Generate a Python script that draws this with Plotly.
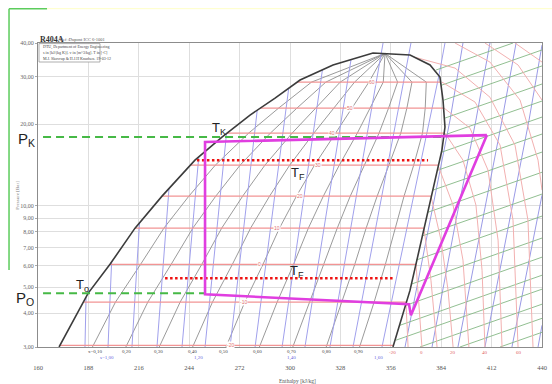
import math
import plotly.graph_objects as go

# ---------------- axes ----------------
H_TICKS = [160, 188, 216, 244, 272, 300, 328, 356, 384, 412, 440]
P_TICKS = [3, 4, 5, 6, 7, 8, 9, 10, 20, 30, 40]
P_TICKTEXT = ["3,00", "4,00", "5,00", "6,00", "7,00", "8,00", "9,00", "10,00", "20,00", "30,00", "40,00"]

# ---------------- saturation dome (h kJ/kg, p bar) ----------------
dome_h = [171.7, 187.8, 200.0, 213.9, 228.9, 247.2, 262.2, 277.8, 291.7, 305.6, 323.9, 346.1,
          366.7, 377.8, 383.3, 385.0, 386.1, 384.4, 380.6, 378.9, 372.2, 366.7, 357.2]
dome_p = [3.0, 4.74, 6.07, 8.26, 10.85, 14.74, 17.94, 21.65, 25.0, 29.18, 33.17, 36.73,
          36.13, 33.17, 29.94, 24.6, 19.54, 16.06, 12.44, 11.13, 7.02, 4.87, 3.0]
crit_h, crit_p = 352.8, 36.6

# ---------------- isotherms inside the dome ----------------
iso_T = [-20, -10, 0, 10, 20, 30, 40, 50, 60]
iso_p = [3.04, 4.40, 6.07, 8.26, 10.85, 14.12, 18.57, 22.97, 28.67]
iso_h_liq = [172.2, 185.1, 200.0, 213.9, 228.9, 244.7, 265.0, 283.5, 304.0]
iso_h_vap = [357.6, 364.7, 370.0, 374.4, 378.3, 382.5, 385.7, 385.3, 383.7]
iso_label_h = [266.7, 273.9, 283.3, 292.8, 305.6, 315.6, 323.3, 333.3, 345.6]

# isotherms in the superheated region
sh_T = [-10, 0, 10, 20, 30, 40, 50, 60, 70, 80, 90, 100]
sh_h = [[364.4, 365.6],
        [370.0, 371.7, 373.3],
        [374.4, 378.3, 381.7],
        [378.3, 383.9, 387.8, 390.6],
        [382.2, 390.6, 396.1, 399.4],
        [386.1, 396.1, 403.3, 406.7, 408.3],
        [385.6, 400.0, 410.0, 415.6, 417.8],
        [384.4, 402.8, 416.7, 423.9, 426.7],
        [368.9, 391.7, 411.1, 425.0, 432.2, 435.0],
        [391.7, 411.1, 427.8, 437.8, 440.0],
        [408.3, 426.7, 440.0],
        [425.0, 440.0]]
sh_p = [[4.40, 3.0],
        [6.07, 4.28, 3.0],
        [8.26, 5.30, 3.0],
        [10.85, 7.46, 4.87, 3.0],
        [14.12, 10.05, 6.29, 3.0],
        [18.57, 14.74, 10.05, 5.77, 3.0],
        [22.97, 19.37, 13.54, 7.46, 3.0],
        [28.67, 24.18, 16.76, 8.84, 3.0],
        [35.5, 32.3, 25.2, 16.76, 8.84, 3.0],
        [40.0, 34.0, 24.6, 14.74, 11.42],
        [40.0, 33.17, 24.6],
        [40.0, 34.0]]
sh_label_T = ["-20", "0", "20", "40", "60"]
sh_label_h = [357.2, 373.3, 390.6, 408.3, 427.2]

# ---------------- vapour quality lines ----------------
quality = [0.1, 0.2, 0.3, 0.4, 0.5, 0.6, 0.7, 0.8, 0.9]
quality_label = ["x=0,10", "0,20", "0,30", "0,40", "0,50", "0,60", "0,70", "0,80", "0,90"]
quality_label_h = [191.7, 208.9, 227.2, 245.6, 263.3, 282.2, 300.6, 320.0, 337.8]

# ---------------- isentropes ----------------
s_dome_h_bot = [186.1, 198.9, 212.2, 226.1, 240.0, 252.8, 266.7, 280.6, 295.6, 308.3, 322.2, 335.0, 351.1]
s_dome_h_top = [186.7, 200.9, 216.4, 232.8, 249.3, 264.7, 281.8, 299.3, 318.0, 333.9, 350.6, 365.6, 382.8]
s_dome_p_top = [4.58, 6.18, 8.62, 11.62, 15.13, 18.41, 22.6, 27.25, 31.77, 34.7, 36.55, 36.13, 30.45]
s_ext_h = [351.7, 367.2, 386.1]
s_sh_h = [[363.9, 377.8, 388.9, 396.1],
          [378.9, 392.2, 403.3, 411.1],
          [393.3, 407.2, 417.8, 425.6],
          [408.3, 422.2, 432.8, 440.0],
          [423.3, 437.2, 440.0],
          [437.8, 440.0]]
s_sh_p = [[3.0, 8.84, 20.74, 40.0],
          [3.0, 8.84, 20.74, 40.0],
          [3.0, 8.84, 20.74, 40.0],
          [3.0, 8.84, 20.74, 39.3],
          [3.0, 8.84, 10.94],
          [3.0, 3.61]]
s_label = ["s=1,00", "1,20", "1,40", "1,60"]
s_label_h = [198.3, 248.9, 300.6, 349.4]

# ---------------- isochores (superheated) ----------------
v_h0 = [381.1, 384.4, 385.6, 386.1, 385.6, 384.4, 382.2, 379.4, 376.7, 373.3, 370.0, 367.2, 364.4, 361.1, 358.9, 372.2, 394.4, 416.7]
v_p0 = [31.77, 27.95, 24.6, 21.1, 18.25, 15.79, 13.54, 11.42, 9.46, 7.72, 6.29, 5.12, 4.28, 3.61, 3.18, 3.0, 3.0, 3.0]
v_h1 = [423.9, 440, 440, 440, 440, 440, 440, 440, 440, 440, 440, 440, 440, 440, 440, 440, 440, 440]
v_p1 = [40.0, 37.7, 32.9, 28.2, 24.39, 21.28, 18.41, 15.79, 13.3, 11.04, 9.15, 7.59, 6.45, 5.53, 4.91, 4.32, 3.83, 3.40]

# ---------------- refrigeration cycle ----------------
cycle_h = [409.4, 252.8, 252.8, 366.1, 367.2, 409.4]
cycle_p = [18.25, 17.2, 4.70, 4.32, 3.93, 18.25]
pk_line_h = [162.8, 385.0]
pk_line_p = [17.94, 17.94]
po_line_h = [162.8, 252.8]
po_line_p = [4.74, 4.74]
tf_hi_h = [248.3, 376.7]
tf_hi_p = [14.74, 14.74]
tf_lo_h = [230.6, 358.3]
tf_lo_p = [5.39, 5.39]

fig = go.Figure()


def add_family(hs_list, ps_list, color, width, dash="solid"):
    xs, ys = [], []
    for hs, ps in zip(hs_list, ps_list):
        xs += list(hs) + [None]
        ys += list(ps) + [None]
    fig.add_trace(go.Scatter(x=xs, y=ys, mode="lines", hoverinfo="skip", showlegend=False,
                             line=dict(color=color, width=width, dash=dash)))


# quality lines
lev_p = [dome_p[0]] + iso_p[1:]
lev_hl = [dome_h[0]] + iso_h_liq[1:]
lev_hv = [dome_h[-1]] + iso_h_vap[1:]
q_h, q_p = [], []
for q in quality:
    q_h.append([a + q * (b - a) for a, b in zip(lev_hl, lev_hv)] + [crit_h])
    q_p.append(lev_p + [crit_p])
add_family(q_h, q_p, "#8e8e8e", 0.9)

# isentropes in dome
d_h, d_p = [], []
for i, (hb, ht, pt) in enumerate(zip(s_dome_h_bot, s_dome_h_top, s_dome_p_top)):
    hh, pp = [hb, ht], [3.0, pt]
    k = i - (len(s_dome_h_bot) - len(s_ext_h))
    if k >= 0:
        hh.append(s_ext_h[k])
        pp.append(40.0)
    d_h.append(hh)
    d_p.append(pp)
add_family(d_h, d_p, "#a0a0ec", 1.0)
add_family(s_sh_h, s_sh_p, "#9a9ae6", 1.0)

# isochores
add_family([[a, b] for a, b in zip(v_h0, v_h1)], [[a, b] for a, b in zip(v_p0, v_p1)], "#84b884", 0.9)

# isotherms
add_family([[a, b] for a, b in zip(iso_h_liq, iso_h_vap)], [[p, p] for p in iso_p], "#f29494", 1.2)
add_family(sh_h, sh_p, "#f2b0b0", 1.0)

# dome
fig.add_trace(go.Scatter(x=dome_h, y=dome_p, mode="lines", hoverinfo="skip", showlegend=False,
                         line=dict(color="#3c3c3c", width=1.6)))

# dashed pressure levels
for hh, pp in [(pk_line_h, pk_line_p), (po_line_h, po_line_p)]:
    fig.add_trace(go.Scatter(x=hh, y=pp, mode="lines", hoverinfo="skip", showlegend=False,
                             line=dict(color="#46b946", width=2, dash="8px,5px")))
# dotted temperature levels
for hh, pp in [(tf_hi_h, tf_hi_p), (tf_lo_h, tf_lo_p)]:
    fig.add_trace(go.Scatter(x=hh, y=pp, mode="lines", hoverinfo="skip", showlegend=False,
                             line=dict(color="#ee1111", width=2.5, dash="2.5px,2.5px")))
# cycle
fig.add_trace(go.Scatter(x=cycle_h, y=cycle_p, mode="lines", hoverinfo="skip", showlegend=False,
                          line=dict(color="#e03ee0", width=2.6)))

C = dict(xanchor="center", yanchor="middle", showarrow=False)
ann = []
# isotherm labels in dome
for t, h, p in zip(iso_T, iso_label_h, iso_p):
    ann.append(dict(x=h, y=math.log10(p), xref="x", yref="y", text=str(t), **C,
                    font=dict(size=5, color="#e07070", family="Liberation Sans"), bgcolor="white", borderpad=0))
# bottom labels
for t, h in zip(quality_label, quality_label_h):
    ann.append(dict(x=h, y=-0.017, xref="x", yref="paper", text=t, **C,
                    font=dict(size=5, color="#444", family="Liberation Serif")))
for t, h in zip(s_label, s_label_h):
    ann.append(dict(x=h, y=-0.037, xref="x", yref="paper", text=t, **C,
                    font=dict(size=5, color="#6666dd", family="Liberation Serif")))
for t, h in zip(sh_label_T, sh_label_h):
    ann.append(dict(x=h, y=-0.017, xref="x", yref="paper", text=t, **C,
                    font=dict(size=5, color="#e06060", family="Liberation Serif")))

big = dict(family="Liberation Sans", size=15, color="#222")
tfont = dict(family="Liberation Sans", size=13, color="#222")
L = dict(xanchor="left", yanchor="middle", showarrow=False)
ann += [
    dict(x=-0.022, y=0.682, xref="paper", yref="paper", text="P<sub>K</sub>", **C, font=big),
    dict(x=-0.026, y=0.158, xref="paper", yref="paper", text="P<sub>O</sub>", **C, font=big),
    dict(x=0.359, y=0.720, xref="paper", yref="paper", text="T<sub>K</sub>", **C, font=tfont),
    dict(x=0.516, y=0.570, xref="paper", yref="paper", text="T<sub>F</sub>", **C, font=tfont),
    dict(x=0.514, y=0.248, xref="paper", yref="paper", text="T<sub>F</sub>", **C, font=tfont),
    dict(x=0.089, y=0.203, xref="paper", yref="paper", text="T<sub>o</sub>", **C, font=tfont),
    dict(x=0.0, y=1.013, xref="paper", yref="paper", text="<b>R404A</b>", **L,
         font=dict(family="Liberation Serif", size=8, color="#333")),
    dict(x=0.04, y=1.011, xref="paper", yref="paper", text="Ref :Dupont ICC 6-1001", **L,
         font=dict(family="Liberation Serif", size=4.5, color="#555")),
    dict(x=0.006, y=0.986, xref="paper", yref="paper", text="DTU, Department of Energy Engineering", **L,
         font=dict(family="Liberation Serif", size=4, color="#444")),
    dict(x=0.006, y=0.968, xref="paper", yref="paper", text="s in [kJ/(kg K)]. v in [m^3/kg]. T in [ºC]", **L,
         font=dict(family="Liberation Serif", size=4, color="#444")),
    dict(x=0.006, y=0.950, xref="paper", yref="paper", text="M.J. Skovrup &amp; H.J.H Knudsen. 19-03-12", **L,
         font=dict(family="Liberation Serif", size=4, color="#444")),
    dict(x=-0.042, y=0.5, xref="paper", yref="paper", text="Pressure [Bar]", textangle=-90, **C,
         font=dict(family="Liberation Serif", size=5, color="#777")),
    dict(x=0.514, y=-0.112, xref="paper", yref="paper", text="Enthalpy [kJ/kg]", **C,
         font=dict(family="Liberation Serif", size=5.5, color="#555")),
]

shapes = [
    dict(type="rect", xref="paper", yref="paper", x0=0.002, x1=0.123, y0=0.9375, y1=0.998,
         line=dict(color="#999", width=0.8), fillcolor="white", layer="above"),
    dict(type="line", xref="paper", yref="paper", x0=-0.0575, x1=-0.0575, y0=1.113, y1=0.253,
         line=dict(color="#5ccc5c", width=1.5)),
    dict(type="line", xref="paper", yref="paper", x0=-0.0575, x1=0.018, y0=1.113, y1=1.113,
         line=dict(color="#5ccc5c", width=1.5)),
    dict(type="line", xref="paper", yref="paper", x0=0.018, x1=1.02, y0=1.113, y1=1.113,
         line=dict(color="#ffffc8", width=1)),
]

fig.update_layout(
    width=552, height=384,
    margin=dict(l=38, r=10, t=43, b=37, autoexpand=False),
    paper_bgcolor="white", plot_bgcolor="white",
    showlegend=False,
    annotations=ann, shapes=shapes,
    xaxis=dict(range=[160, 440], tickvals=H_TICKS, ticktext=[str(v) for v in H_TICKS],
               automargin=False,
               showgrid=True, gridcolor="#dedede", gridwidth=1, zeroline=False,
               showline=True, mirror=True, linecolor="#8c8c8c", linewidth=1,
               ticks="outside", ticklen=14, tickcolor="rgba(0,0,0,0)",
               tickfont=dict(family="Liberation Serif", size=6.5, color="#555")),
    yaxis=dict(type="log", range=[math.log10(3), math.log10(40)], tickvals=P_TICKS, ticktext=P_TICKTEXT,
               automargin=False,
               showgrid=True, gridcolor="#dedede", gridwidth=1, zeroline=False,
               showline=True, mirror=True, linecolor="#8c8c8c", linewidth=1,
               ticks="outside", ticklen=2, tickcolor="#aaa",
               tickfont=dict(family="Liberation Serif", size=6, color="#666")),
)

# remove the default page margin so the 552x384 figure fills the window exactly
fig.write_html("out.html", config={"displayModeBar": False},
               post_script="document.body.style.margin='0';document.body.style.overflow='hidden';")
